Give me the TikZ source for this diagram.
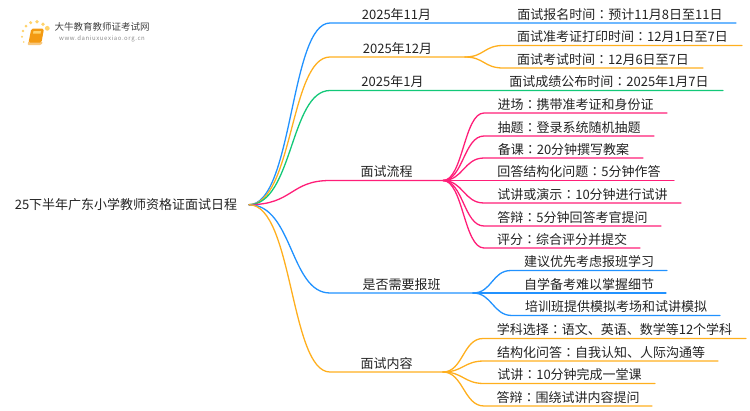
\documentclass[tikz,border=0pt]{standalone}
\usepackage{fontspec}
\setmainfont{Noto Sans CJK SC}
\newfontfamily\tcfont{Noto Sans CJK TC}
\newcommand{\cn}{{\tcfont ：}}
\definecolor{mapblue}{HTML}{2192FF}
\definecolor{maporange}{HTML}{FFAF1E}
\definecolor{mapgreen}{HTML}{12C878}
\definecolor{mappink}{HTML}{FF1E78}
\definecolor{maptext}{HTML}{222222}
\definecolor{logodot}{HTML}{FFD36B}
\definecolor{logobook}{HTML}{F39A12}
\tikzset{
	lab/.style={anchor=south west,inner sep=0,outer sep=0,minimum height=15,text height=10,text depth=3,font=\fontsize{13}{13}\selectfont,text=maptext},
	branch/.style={line width=1.3pt,line cap=round,line join=round},
}
\begin{document}
\begin{tikzpicture}[x=1pt,y=-1pt]
	\useasboundingbox (0,0) rectangle (750,410);
	% logo
	\fill[logodot] (23.7,42)circle(.9) (22,36.7)circle(1.1) (23,31)circle(1.3) (26,26)circle(1.5) (30.7,22.7)circle(1.7) (37,21.7)circle(1.9) (43,24.3)circle(1.9) (47.3,28.3)circle(2.4);
	\fill[logobook!55!white,rounded corners=1] (28.5,41)--(43,42)--(41,45)--(27.5,45)--cycle;
	\fill[logobook,rounded corners=1.5] (31.3,28.7)--(44,28.7)--(41.5,42.5)--(28.5,42.5)--cycle;
	\fill[logodot] (33.5,31)--(41,31)--(40.5,33.5)--(33,33.5)--cycle;
	\node[inner sep=0,text=black!75,font=\fontsize{9.5}{9.5}\selectfont] (logoname) at (102,27) {大牛教育教师证考试网};
	\node[inner sep=0,text=black!45,font=\fontsize{6}{6}\selectfont\addfontfeatures{LetterSpace=10}] (logourl) at (102,39) {www.daniuxuexiao.org.cn};
	% root and first level
	\node[lab,anchor=east,minimum width=246,text height=11.5,text depth=1.7] (root) at (249,204.7) {25下半年广东小学教师资格证面试日程};
	\node[lab,minimum width=133] (nov) at (330,23) {2025年11月};
	\node[lab,minimum width=135] (dec) at (330,57) {2025年12月};
	\node[lab,minimum width=125] (jan) at (330,90.5) {2025年1月};
	\node[lab,minimum width=113] (flow) at (330,180.5) {面试流程};
	\node[lab,minimum width=143] (cls) at (330,293) {是否需要报班};
	\node[lab,minimum width=113] (cont) at (330,372) {面试内容};
	% dates
	\node[lab,minimum width=232] (nova) at (504,23) {面试报名时间\cn 预计11月8日至11日};
	\node[lab,minimum width=239] (deca) at (503,45.5) {面试准考证打印时间\cn 12月1日至7日};
	\node[lab,minimum width=200] (decb) at (503,68) {面试考试时间\cn 12月6日至7日};
	\node[lab,minimum width=228] (jana) at (495,90.5) {面试成绩公布时间\cn 2025年1月7日};
	% steps
	\node[lab,minimum width=183] (flowa) at (484,113) {进场\cn 携带准考证和身份证};
	\node[lab,minimum width=170] (flowb) at (484,136) {抽题\cn 登录系统随机抽题};
	\node[lab,minimum width=159] (flowc) at (484,158) {备课\cn 20分钟撰写教案};
	\node[lab,minimum width=190] (flowd) at (484,180.5) {回答结构化问题\cn 5分钟作答};
	\node[lab,minimum width=197] (flowe) at (484,203) {试讲或演示\cn 10分钟进行试讲};
	\node[lab,minimum width=177] (flowf) at (484,226) {答辩\cn 5分钟回答考官提问};
	\node[lab,minimum width=156] (flowg) at (484,248) {评分\cn 综合评分并提交};
	% class
	\node[lab,minimum width=156] (clsa) at (511,270.5) {建议优先考虑报班学习};
	\node[lab,minimum width=154] (clsb) at (512,293) {自学备考难以掌握细节};
	\node[lab,minimum width=208] (clsc) at (512,315.5) {培训班提供模拟考场和试讲模拟};
	% content
	\node[lab,minimum width=263] (conta) at (483,338.5) {学科选择\cn 语文、英语、数学等12个学科};
	\node[lab,minimum width=234] (contb) at (484,361) {结构化问答\cn 自我认知、人际沟通等};
	\node[lab,minimum width=171] (contc) at (484,383.5) {试讲\cn 10分钟完成一堂课};
	\node[lab,minimum width=168] (contd) at (484,406) {答辩\cn 围绕试讲内容提问};
	% first level connectors
	\draw[branch,mapblue] (root.east) .. controls +(44,0) and +(-40,0) .. (nov.south west) -- (nova.south east);
	\draw[branch,maporange] (root.east) .. controls +(44,0) and +(-40,0) .. (dec.south west) -- (dec.south east);
	\draw[branch,mapgreen] (root.east) .. controls +(44,0) and +(-40,0) .. (jan.south west) -- (jana.south east);
	\draw[branch,mappink] (root.east) .. controls +(44,0) and +(-40,0) .. (flow.south west) -- (flow.south east);
	\draw[branch,mapblue] (root.east) .. controls +(44,0) and +(-40,0) .. (cls.south west) -- (cls.south east);
	\draw[branch,maporange] (root.east) .. controls +(44,0) and +(-40,0) .. (cont.south west) -- (cont.south east);
	% second level connectors
	\draw[branch,maporange] (dec.south east) .. controls +(19,0) and +(-19,0) .. (deca.south west) -- (deca.south east);
	\draw[branch,maporange] (dec.south east) .. controls +(19,0) and +(-19,0) .. (decb.south west) -- (decb.south east);
	\draw[branch,mappink] (flow.south east) .. controls +(20,0) and +(-20,0) .. (flowa.south west) -- (flowa.south east);
	\draw[branch,mappink] (flow.south east) .. controls +(20,0) and +(-20,0) .. (flowb.south west) -- (flowb.south east);
	\draw[branch,mappink] (flow.south east) .. controls +(20,0) and +(-20,0) .. (flowc.south west) -- (flowc.south east);
	\draw[branch,mappink] (flow.south east) -- (flowd.south east);
	\draw[branch,mappink] (flow.south east) .. controls +(20,0) and +(-20,0) .. (flowe.south west) -- (flowe.south east);
	\draw[branch,mappink] (flow.south east) .. controls +(20,0) and +(-20,0) .. (flowf.south west) -- (flowf.south east);
	\draw[branch,mappink] (flow.south east) .. controls +(20,0) and +(-20,0) .. (flowg.south west) -- (flowg.south east);
	\draw[branch,mapblue] (cls.south east) .. controls +(19,0) and +(-19,0) .. (clsa.south west) -- (clsa.south east);
	\draw[branch,mapblue] (cls.south east) -- (clsb.south east);
	\draw[branch,mapblue] (cls.south east) .. controls +(19,0) and +(-19,0) .. (clsc.south west) -- (clsc.south east);
	\draw[branch,maporange] (cont.south east) .. controls +(20,0) and +(-20,0) .. (conta.south west) -- (conta.south east);
	\draw[branch,maporange] (cont.south east) .. controls +(20,0) and +(-20,0) .. (contb.south west) -- (contb.south east);
	\draw[branch,maporange] (cont.south east) .. controls +(20,0) and +(-20,0) .. (contc.south west) -- (contc.south east);
	\draw[branch,maporange] (cont.south east) .. controls +(20,0) and +(-20,0) .. (contd.south west) -- (contd.south east);
\end{tikzpicture}
\end{document}
